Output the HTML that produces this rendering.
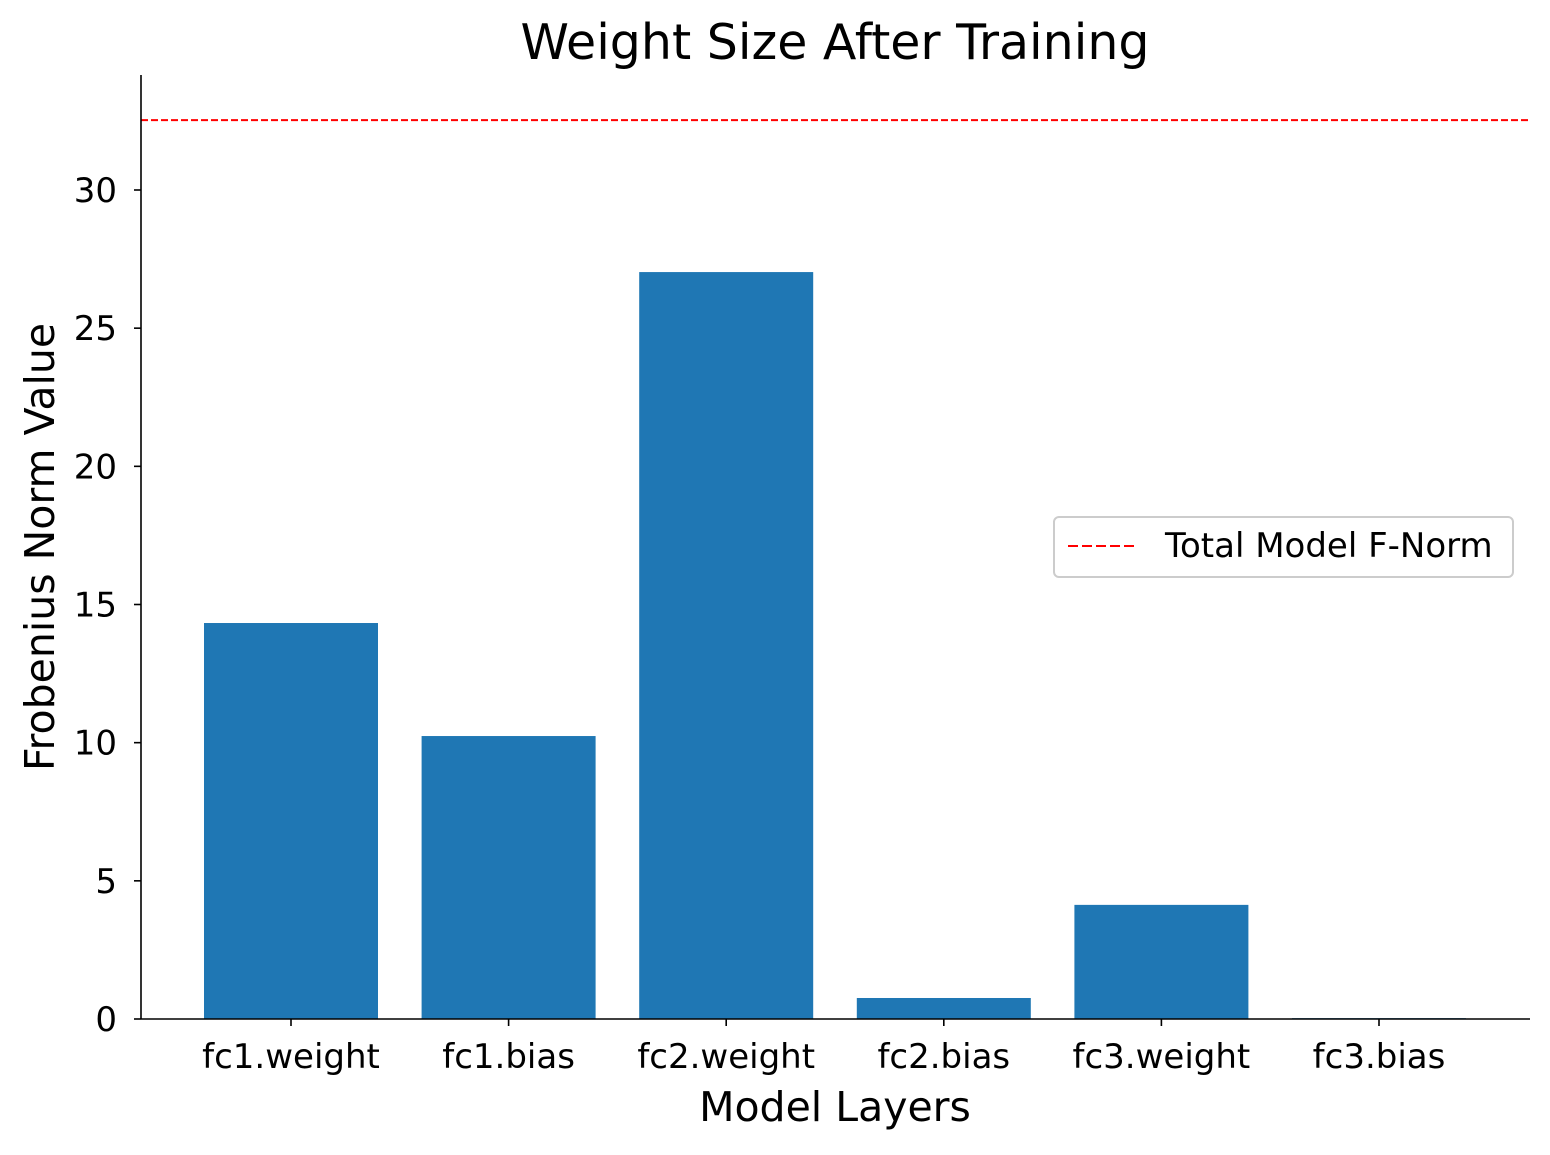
<!DOCTYPE html>
<html><head><meta charset="utf-8"><style>
body{margin:0;background:#fff;font-family:"Liberation Sans","DejaVu Sans",sans-serif;}
svg text{font-family:"DejaVu Sans","Liberation Sans",sans-serif;}
</style></head><body>
<svg id="chart" width="1550" height="1150" xmlns="http://www.w3.org/2000/svg">
<text x="835" y="59" font-size="49" text-anchor="middle">Weight Size After Training</text>
<g id="plot"></g>
<text x="835" y="1121" font-size="41" text-anchor="middle">Model Layers</text>
<text transform="translate(54,547) rotate(-90)" font-size="41" text-anchor="middle">Frobenius Norm Value</text>
<g>
<rect x="1054" y="517" width="459" height="60" rx="5" fill="#fff" stroke="#ccc" stroke-width="2"/>
<line x1="1068" y1="546" x2="1138" y2="546" stroke="#ff0000" stroke-width="2" stroke-dasharray="10,4"/>
<text x="1165" y="557" font-size="34">Total Model F-Norm</text>
</g>
</svg>
<script>
const categories = ["fc1.weight","fc1.bias","fc2.weight","fc2.bias","fc3.weight","fc3.bias"];
const values = [14.33, 10.24, 27.03, 0.76, 4.13, 0.03];
const totalNorm = [32.53];
const yTicks = [0,5,10,15,20,25,30];

const NS="http://www.w3.org/2000/svg";
const g=document.getElementById('plot');
const L=141,R=1530,T=75,B=1019;
const yMax=(B-T)/((B-190)/30);
const y=v=>B-v/yMax*(B-T);
const step=217.6, x0=291;
const x=i=>x0+i*step;
const bw=174;
function mk(tag,attrs){const e=document.createElementNS(NS,tag);for(const k in attrs)e.setAttribute(k,attrs[k]);g.appendChild(e);return e;}
values.forEach((v,i)=>{
  const r=mk('rect',{x:x(i)-bw/2,y:y(v),width:bw,height:B-y(v),fill:'#1f77b4'});
  
  
  const t=mk('line',{x1:x(i),x2:x(i),y1:B,y2:B+7,stroke:'#000','stroke-width':1.6});
  
  
  const lb=mk('text',{x:x(i),y:B+49,'font-size':34,'text-anchor':'middle'});
  lb.textContent=categories[i];
  
  
});
yTicks.forEach(v=>{
  const t=mk('line',{x1:L-7,x2:L,y1:y(v),y2:y(v),stroke:'#000','stroke-width':1.6});
  
  
  const lb=mk('text',{x:L-24,y:y(v)+12,'font-size':34,'text-anchor':'end'});
  lb.textContent=v;
  
  
});
const hl=mk('line',{x1:L,x2:R,y1:y(totalNorm[0]),y2:y(totalNorm[0]),stroke:'#ff0000','stroke-width':2,'stroke-dasharray':'7,3'});


const ya=mk('line',{x1:L,x2:L,y1:T,y2:B,stroke:'#000','stroke-width':1.6});


const xa=mk('line',{x1:L,x2:R,y1:B,y2:B,stroke:'#000','stroke-width':1.6});


</script>
</body></html>
